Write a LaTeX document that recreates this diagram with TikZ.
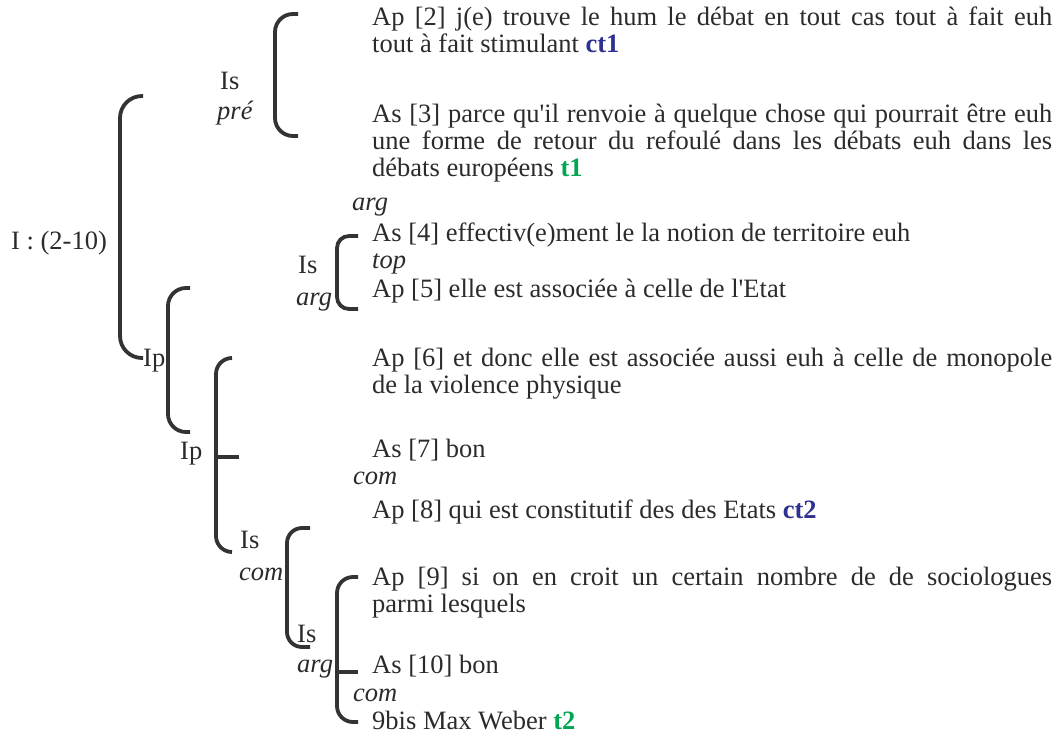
\documentclass[tikz,border=0pt]{standalone}
\usepackage{fontspec}
\setmainfont{Liberation Serif}
\usepackage{xcolor}
\definecolor{ink}{HTML}{2B2B2B}
\definecolor{bracketgray}{HTML}{333333}
\definecolor{ctblue}{HTML}{2E3192}
\definecolor{tgreen}{HTML}{00A651}
\usetikzlibrary{positioning}

\newcommand{\ctag}[1]{\textbf{\textcolor{ctblue}{#1}}}
\newcommand{\ttag}[1]{\textbf{\textcolor{tgreen}{#1}}}

\begin{document}
\begin{tikzpicture}[
  x=1pt, y=-1pt,
  every node/.style={
    font=\fontsize{26.5}{27}\selectfont,
    text=ink,
    inner sep=0pt
  },
  para/.style={
    anchor=base west,
    text width=680pt,
    align=justify
  },
  tag/.style={anchor=base west},
  fn/.style={
    anchor=base west,
    font=\fontsize{26.5}{27}\selectfont\itshape
  },
  brk/.style={
    draw=bracketgray,
    line width=3.8pt,
    rounded corners=#1
  },
  brk/.default=15pt,
  tick/.style={
    draw=bracketgray,
    line width=3.8pt
  }
]
\useasboundingbox (0,0) rectangle (1064,738);

% Left labels
\node[tag] (unit) at (11,249) {I : (2-10)};
\node[tag] (is-pre) at (220,90) {Is};
\node[fn]  (pre) at (217,120) {pré};
\node[tag] (is-top) at (298,273) {Is};
\node[fn]  (arg-top) at (296,305) {arg};
\node[tag] (ip-one) at (143,366) {Ip};
\node[tag] (ip-two) at (180,459) {Ip};
\node[tag] (is-com) at (240,548) {Is};
\node[fn]  (com-left) at (239,580) {com};
\node[tag] (is-arg) at (297,642) {Is};
\node[fn]  (arg-left) at (297,672) {arg};

% Text units
\node[para] (ap2) at (372,26)
  {Ap [2] j(e) trouve le hum le débat en tout cas tout à fait euh\linebreak
   tout à fait stimulant \ctag{ct1}};
\node[para] (as3) at (372,123)
  {As [3] parce qu\textquotesingle il renvoie à quelque chose qui pourrait être euh\linebreak
   une forme de retour du refoulé dans les débats euh dans les\linebreak
   débats européens \ttag{t1}};
\node[fn] (arg-mid) at (352,210) {arg};
\node[para] (as4) at (372,241) {As [4] effectiv(e)ment le la notion de territoire euh};
\node[fn] (top) at (372,268) {top};
\node[para] (ap5) at (372,297) {Ap [5] elle est associée à celle de l\textquotesingle Etat};
\node[para] (ap6) at (372,366)
  {Ap [6] et donc elle est associée aussi euh à celle de monopole\linebreak
   de la violence physique};
\node[para] (as7) at (372,457) {As [7] bon};
\node[fn] (com-a) at (353,484) {com};
\node[para] (ap8) at (372,518) {Ap [8] qui est constitutif des des Etats \ctag{ct2}};
\node[para] (ap9) at (372,585)
  {Ap [9] si on en croit un certain nombre de de sociologues\linebreak
   parmi lesquels};
\node[para] (as10) at (372,673) {As [10] bon};
\node[fn] (com-b) at (353,701) {com};
\node[para] (bis) at (372,729) {9bis Max Weber \ttag{t2}};

% Bracket ends
\coordinate (unit-a) at (143,96);
\coordinate (unit-b) at (143,358);
\coordinate (pre-a) at (298,14);
\coordinate (pre-b) at (298,136);
\coordinate (top-a) at (358,236);
\coordinate (top-b) at (358,309);
\coordinate (ipone-a) at (190,288);
\coordinate (ipone-b) at (190,432);
\coordinate (iptwo-a) at (232,358);
\coordinate (iptwo-b) at (232,552);
\coordinate (iptwo-c) at (239,457);
\coordinate (com-a1) at (310,528);
\coordinate (com-b1) at (310,647);
\coordinate (arg-a) at (358,577);
\coordinate (arg-b) at (358,722);
\coordinate (arg-c) at (358,672);

% Brackets
\draw[brk=22pt] (unit-a) -- ++(-23,0) |- (unit-b);
\draw[brk=18pt] (pre-a) -- ++(-23,0) |- (pre-b);
\draw[brk=12pt] (top-a) -- ++(-21,0) |- (top-b);
\draw[brk=18pt] (ipone-a) -- ++(-22,0) |- (ipone-b);
\draw[brk=16pt] (iptwo-a) -- ++(-16,0) |- (iptwo-b);
\draw[tick] (iptwo-c) -- ++(-23,0);
\draw[brk=15pt] (com-a1) -- ++(-23,0) |- (com-b1);
\draw[brk=16pt] (arg-a) -- ++(-21,0) |- (arg-b);
\draw[tick] (arg-c) -- ++(-21,0);

\end{tikzpicture}
\end{document}
